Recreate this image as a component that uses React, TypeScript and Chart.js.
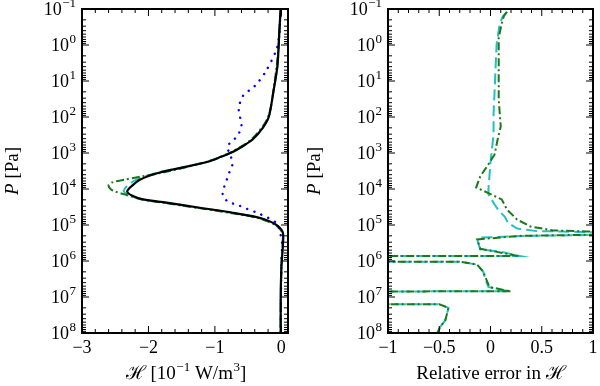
import React, { useEffect, useRef } from 'react';
import { Chart, registerables } from 'chart.js';

Chart.register(...registerables);

// ---------- Data (pressure given as log10(P / Pa)) ----------
const LOGP_BLACK = [-1.0, -0.4, 0.0, 0.6, 1.3, 2.0, 2.3, 2.62, 2.8, 2.98, 3.1, 3.23, 3.4, 3.54, 3.74, 3.93, 4.07, 4.18, 4.29, 4.38, 4.52, 4.66, 4.8, 4.99, 5.2, 5.5, 5.8, 6.2, 7.0, 8.0];
const H_BLACK = [-0.01, -0.03, -0.04, -0.06, -0.12, -0.19, -0.28, -0.43, -0.57, -0.74, -0.9, -1.08, -1.48, -1.83, -2.13, -2.26, -2.32, -2.25, -2.08, -1.73, -1.23, -0.73, -0.33, -0.08, 0.02, 0.025, 0.015, 0.0, -0.01, -0.01];
const H_CYAN = [-0.01, -0.03, -0.04, -0.06, -0.12, -0.19, -0.28, -0.43, -0.57, -0.75, -0.9, -1.09, -1.5, -1.86, -2.18, -2.33, -2.37, -2.28, -2.1, -1.76, -1.25, -0.75, -0.35, -0.09, 0.015, 0.02, 0.01, 0.0, -0.01, -0.01];

const LOGP_GREEN = [-1.0, 0.0, 1.0, 2.0, 2.62, 2.98, 3.23, 3.51, 3.66, 3.74, 3.82, 3.9, 4.0, 4.07, 4.18, 4.29, 4.38, 4.52, 4.66, 4.8, 4.99, 5.2, 5.5, 6.2, 8.0];
const H_GREEN = [-0.01, -0.04, -0.1, -0.2, -0.45, -0.76, -1.1, -1.7, -2.13, -2.36, -2.55, -2.6, -2.57, -2.5, -2.3, -2.1, -1.78, -1.28, -0.78, -0.37, -0.1, 0.01, 0.02, 0.0, -0.01];

const LOGP_BLUE = [-1.0, -0.36, 0.11, 0.75, 1.14, 1.42, 1.79, 2.26, 2.54, 2.82, 3.09, 3.37, 3.6, 3.8, 4.0, 4.2, 4.35, 4.45, 4.55, 4.65, 4.8, 4.95, 5.13, 5.5, 6.0, 8.0];
const H_BLUE = [-0.01, -0.03, -0.07, -0.24, -0.4, -0.58, -0.64, -0.6, -0.67, -0.81, -0.76, -0.74, -0.8, -0.83, -0.87, -0.88, -0.8, -0.65, -0.52, -0.38, -0.2, -0.07, -0.03, 0.01, 0.0, -0.01];

const LOGP_ERR_CYAN = [-0.92, -0.8, -0.58, -0.03, 0.59, 1.28, 1.92, 2.48, 3.26, 4.0, 4.15, 4.43, 4.6, 4.77, 4.94, 5.1, 5.17, 5.18, 5.2, 5.22, 5.26, 5.28, 5.3, 5.35, 5.4, 5.68, 5.74, 5.86, 5.87, 6.01, 6.02, 6.1, 6.3, 6.52, 6.72, 6.8, 6.84, 6.86, 7.19, 7.2, 7.3, 7.64, 7.83, 8.0];
const ERR_CYAN = [0.16, 0.12, 0.09, 0.06, 0.05, 0.04, 0.03, 0.03, 0.0, -0.02, -0.02, 0.04, 0.08, 0.14, 0.17, 0.26, 0.45, 0.7, 0.97, 4, 4, 0.99, 0.36, -0.1, -0.13, -0.1, 0.09, 0.29, -4, -4, -0.3, -0.13, -0.07, -0.05, -0.02, 0.09, 0.19, -4, -4, -0.51, -0.41, -0.44, -0.49, -0.52];

const LOGP_ERR_GREEN = [-0.92, -0.8, -0.6, -0.2, 0.5, 1.5, 1.9, 2.26, 2.62, 3.04, 3.4, 3.65, 3.96, 4.1, 4.29, 4.57, 4.85, 5.04, 5.15, 5.18, 5.2, 5.25, 5.27, 5.3, 5.4, 5.66, 5.74, 5.86, 5.87, 6.01, 6.02, 6.1, 6.3, 6.52, 6.72, 6.82, 6.84, 6.86, 7.19, 7.2, 7.3, 7.64, 7.83, 8.0];
const ERR_GREEN = [0.16, 0.13, 0.11, 0.08, 0.08, 0.08, 0.09, 0.1, 0.07, 0.04, -0.04, -0.1, -0.14, -0.03, 0.11, 0.16, 0.26, 0.39, 0.61, 0.94, 4, 4, 0.99, 0.3, -0.13, -0.1, 0.05, 0.27, -4, -4, -0.3, -0.13, -0.07, -0.04, -0.01, 0.15, 0.2, -4, -4, -0.5, -0.41, -0.44, -0.49, -0.52];

const Y_EXPONENTS = [-1, 0, 1, 2, 3, 4, 5, 6, 7, 8];
const X_TICKS_LEFT = [-3, -2, -1, 0];
const X_TICKS_RIGHT = [-1, -0.5, 0, 0.5, 1];

// ---------- Styling ----------
const FONT = "'Liberation Serif', 'DejaVu Serif', serif";
const FS = 18;
const FS_TITLE = 19;
const BLACK = '#000000';
const BLUE = '#0000ff';
const GREEN = '#1a7a1a';
const CYAN = '#22c0c0';

type Seg = { t: string; italic?: boolean; sup?: boolean };

const fmtNum = (v: number) => (v < 0 ? '\u2212' + String(-v) : String(v));
const fmtExp = (e: number) => (e < 0 ? '\u2212' + String(-e) : String(e));
const pts = (lp: number[], xs: number[]) => lp.map((l, i) => ({ x: xs[i], y: Math.pow(10, l) }));

function drawRich(ctx: CanvasRenderingContext2D, segs: Seg[], x: number, y: number, align: 'center' | 'right' | 'left', size: number) {
  const fontOf = (s: Seg) => `${s.italic ? 'italic ' : ''}${s.sup ? Math.round(size * 0.7) : size}px ${FONT}`;
  let total = 0;
  const widths = segs.map((s) => {
    ctx.font = fontOf(s);
    const w = ctx.measureText(s.t).width + (s.sup ? 0.5 : 0);
    total += w;
    return w;
  });
  let cx = align === 'center' ? x - total / 2 : align === 'right' ? x - total : x;
  ctx.textAlign = 'left';
  ctx.textBaseline = 'alphabetic';
  segs.forEach((s, i) => {
    ctx.font = fontOf(s);
    ctx.fillText(s.t, cx + (s.sup ? 0.5 : 0), s.sup ? y - size * 0.42 : y);
    cx += widths[i];
  });
}

function framePlugin(xMajor: number[], xMinorStep: number, xTitle: Seg[], xTitleX: number, yTitleX: number) {
  return {
    id: 'frameTicks',
    afterDatasetsDraw(chart: any) {
      const { ctx, chartArea: a, scales } = chart;
      const xs = scales.x;
      const ys = scales.y;
      ctx.save();
      ctx.strokeStyle = '#000';
      ctx.lineWidth = 1;
      const vTick = (px: number, len: number) => {
        ctx.beginPath();
        ctx.moveTo(px, a.bottom); ctx.lineTo(px, a.bottom - len);
        ctx.moveTo(px, a.top); ctx.lineTo(px, a.top + len);
        ctx.stroke();
      };
      const hTick = (py: number, len: number) => {
        ctx.beginPath();
        ctx.moveTo(a.left, py); ctx.lineTo(a.left + len, py);
        ctx.moveTo(a.right, py); ctx.lineTo(a.right - len, py);
        ctx.stroke();
      };
      const start = Math.ceil(xs.min / xMinorStep - 1e-6);
      const end = Math.floor(xs.max / xMinorStep + 1e-6);
      for (let k = start; k <= end; k++) {
        const v = k * xMinorStep;
        const isMajor = xMajor.some((m) => Math.abs(m - v) < 1e-6);
        vTick(xs.getPixelForValue(v), isMajor ? 7 : 4);
      }
      const eLast = Y_EXPONENTS[Y_EXPONENTS.length - 1];
      for (let e = Y_EXPONENTS[0]; e <= eLast; e++) {
        hTick(ys.getPixelForValue(Math.pow(10, e)), 7);
        if (e < eLast) {
          for (let m = 2; m <= 9; m++) hTick(ys.getPixelForValue(m * Math.pow(10, e)), 4);
        }
      }
      ctx.lineWidth = 2;
      ctx.strokeRect(a.left, a.top, a.right - a.left, a.bottom - a.top);

      // tick labels
      ctx.fillStyle = '#000';
      for (const e of Y_EXPONENTS) {
        const py = ys.getPixelForValue(Math.pow(10, e));
        drawRich(ctx, [{ t: '10' }, { t: fmtExp(e), sup: true }], a.left - 6, py + 6, 'right', FS);
      }
      for (const v of xMajor) {
        const px = xs.getPixelForValue(v);
        ctx.font = `${FS}px ${FONT}`;
        ctx.textAlign = 'center';
        ctx.textBaseline = 'alphabetic';
        ctx.fillText(fmtNum(v), px, 353);
      }
      // titles
      drawRich(ctx, xTitle, xTitleX, 379, 'center', FS_TITLE);
      ctx.save();
      ctx.translate(yTitleX, (a.top + a.bottom) / 2);
      ctx.rotate(-Math.PI / 2);
      drawRich(ctx, [{ t: 'P', italic: true }, { t: ' [Pa]' }], 0, 0, 'center', FS_TITLE);
      ctx.restore();
      ctx.restore();
    },
  };
}

function makeConfig(opts: {
  datasets: any[]; xMin: number; xMax: number; xTicks: number[]; xMinor: number;
  xTitle: Seg[]; xTitleX: number; yTitleX: number; padRight: number; yWidth: number;
}) {
  return {
    type: 'line' as const,
    data: { datasets: opts.datasets },
    options: {
      responsive: false,
      animation: false as const,
      events: [],
      layout: { padding: { left: 0, right: opts.padRight, top: 9, bottom: 0 } },
      elements: { point: { radius: 0 }, line: { borderCapStyle: 'butt' as const } },
      plugins: { legend: { display: false }, tooltip: { enabled: false } },
      scales: {
        x: {
          type: 'linear' as const,
          min: opts.xMin,
          max: opts.xMax,
          afterBuildTicks: (s: any) => { s.ticks = opts.xTicks.map((v) => ({ value: v })); },
          afterFit: (s: any) => { s.height = 53; },
          grid: { display: false, drawTicks: false },
          border: { display: false },
          ticks: { display: false },
          title: { display: false },
        },
        y: {
          type: 'logarithmic' as const,
          reverse: true,
          min: 0.1,
          max: 1e8,
          afterBuildTicks: (s: any) => { s.ticks = Y_EXPONENTS.map((e) => ({ value: Math.pow(10, e) })); },
          afterFit: (s: any) => { s.width = opts.yWidth; },
          grid: { display: false, drawTicks: false },
          border: { display: false },
          ticks: { display: false },
          title: { display: false },
        },
      },
    },
    plugins: [framePlugin(opts.xTicks, opts.xMinor, opts.xTitle, opts.xTitleX, opts.yTitleX)],
  };
}

function Panel({ which }: { which: 'left' | 'right' }) {
  const ref = useRef<HTMLCanvasElement>(null);
  useEffect(() => {
    if (!ref.current) return;
    let cfg: any;
    if (which === 'left') {
      cfg = makeConfig({
        datasets: [
          { data: pts(LOGP_BLACK, H_BLACK), borderColor: BLACK, borderWidth: 2.2, tension: 0.3 },
          { data: pts(LOGP_BLUE, H_BLUE), borderColor: BLUE, borderWidth: 2.4, borderDash: [0.1, 7.5], borderCapStyle: 'round', tension: 0.3 },
          { data: pts(LOGP_GREEN, H_GREEN), borderColor: GREEN, borderWidth: 2, borderDash: [8, 3, 2, 3], tension: 0.3 },
          { data: pts(LOGP_BLACK, H_CYAN), borderColor: CYAN, borderWidth: 2, borderDash: [11, 5], tension: 0.3 },
        ],
        xMin: -3, xMax: 0.1, xTicks: X_TICKS_LEFT, xMinor: 0.2,
        xTitle: [{ t: '\u210B [10' }, { t: '\u22121', sup: true }, { t: ' W/m' }, { t: '3', sup: true }, { t: ']' }],
        xTitleX: 186, yTitleX: 18, padRight: 12, yWidth: 82,
      });
    } else {
      cfg = makeConfig({
        datasets: [
          { data: pts(LOGP_ERR_GREEN, ERR_GREEN), borderColor: GREEN, borderWidth: 2, borderDash: [8, 3, 2, 3], tension: 0 },
          { data: pts(LOGP_ERR_CYAN, ERR_CYAN), borderColor: CYAN, borderWidth: 2, borderDash: [11, 5], tension: 0 },
        ],
        xMin: -1, xMax: 1, xTicks: X_TICKS_RIGHT, xMinor: 0.1,
        xTitle: [{ t: 'Relative error in \u210B' }],
        xTitleX: 191, yTitleX: 20, padRight: 7, yWidth: 88,
      });
    }
    const chart = new Chart(ref.current, cfg);
    return () => chart.destroy();
  }, [which]);
  return <canvas ref={ref} width={300} height={386} style={{ display: 'block', width: 300, height: 386 }} />;
}

export default function App() {
  return (
    <div style={{ position: 'fixed', left: 0, top: 0, width: 600, height: 386, background: '#fff', display: 'flex' }}>
      <Panel which="left" />
      <Panel which="right" />
    </div>
  );
}
